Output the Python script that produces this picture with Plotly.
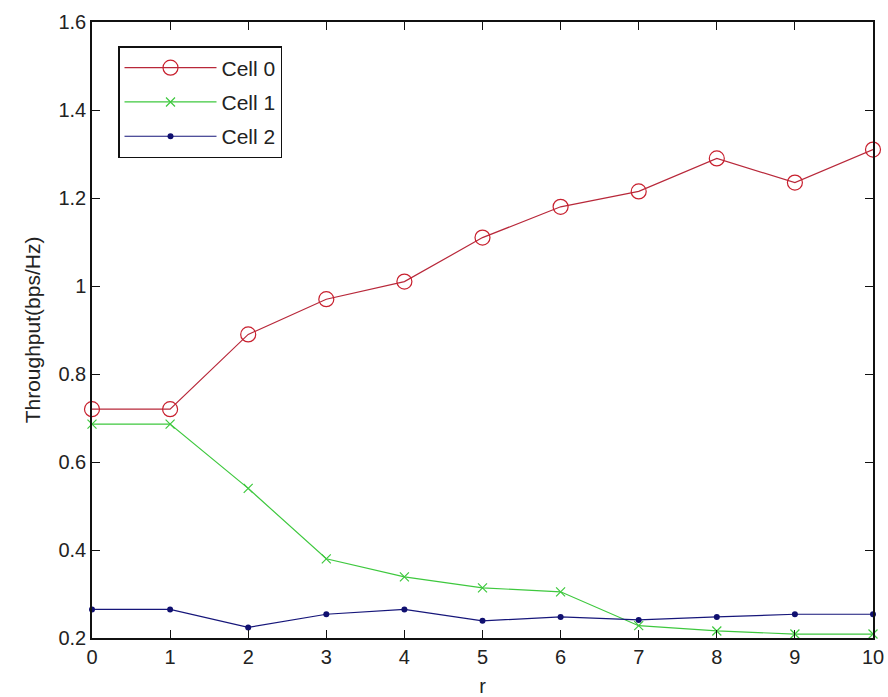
import plotly.graph_objects as go

r_values = [0, 1, 2, 3, 4, 5, 6, 7, 8, 9, 10]
cell0 = [0.72, 0.72, 0.89, 0.97, 1.01, 1.11, 1.18, 1.215, 1.29, 1.235, 1.31]
cell1 = [0.686, 0.686, 0.54, 0.38, 0.339, 0.314, 0.305, 0.228, 0.216, 0.209, 0.209]
cell2 = [0.265, 0.265, 0.224, 0.254, 0.265, 0.239, 0.248, 0.241, 0.248, 0.254, 0.254]
series_names = ["Cell 0", "Cell 1", "Cell 2"]
y_ticks = [0.2, 0.4, 0.6, 0.8, 1.0, 1.2, 1.4, 1.6]
y_tick_labels = ["0.2", "0.4", "0.6", "0.8", "1", "1.2", "1.4", "1.6"]
x_ticks = [0, 1, 2, 3, 4, 5, 6, 7, 8, 9, 10]

FONT = "Liberation Sans, Arial, sans-serif"

fig = go.Figure()
fig.add_trace(go.Scatter(
    x=r_values, y=cell0, name=series_names[0], mode="lines+markers",
    legendgroup="g0",
    line=dict(color="#b8283a", width=1.2),
    marker=dict(symbol="circle-open", size=15, color="#c8202e", line=dict(width=1.2)),
    cliponaxis=False,
))
fig.add_trace(go.Scatter(
    x=r_values, y=cell1, name=series_names[1], mode="lines+markers",
    legendgroup="g1",
    line=dict(color="#3ec83e", width=1.2),
    marker=dict(symbol="x-thin-open", size=9, color="#3ec83e", line=dict(width=1.2)),
    cliponaxis=False,
))
fig.add_trace(go.Scatter(
    x=r_values, y=cell2, name=series_names[2], mode="lines+markers",
    legendgroup="g2",
    line=dict(color="#16167a", width=1.2),
    marker=dict(symbol="circle", size=6, color="#101070"),
    cliponaxis=False,
))

fig.update_layout(
    width=888, height=697,
    margin=dict(l=92, r=15, t=22, b=59),
    paper_bgcolor="white", plot_bgcolor="white",
    font=dict(family=FONT, size=20, color="#222222"),
    showlegend=True,
    legend=dict(
        x=0.0333, y=0.961, xanchor="left", yanchor="top",
        bgcolor="white", bordercolor="#111111", borderwidth=1.5,
        font=dict(family=FONT, size=21, color="#222222"),
        itemwidth=92, tracegroupgap=4,
    ),
)
fig.update_xaxes(
    range=[0, 10], tickvals=x_ticks, ticks="inside", ticklen=8, tickwidth=1.2,
    tickcolor="#111111", showline=True, linecolor="#111111", linewidth=1.5,
    mirror="ticks", showgrid=False, zeroline=False, automargin=False,
    tickfont=dict(size=20),
    title=dict(text="r", font=dict(size=20), standoff=14),
)
fig.update_yaxes(
    range=[0.2, 1.6], tickvals=y_ticks, ticktext=y_tick_labels, ticks="inside",
    ticklen=8, tickwidth=1.2, tickcolor="#111111", showline=True,
    linecolor="#111111", linewidth=1.5, mirror="ticks", showgrid=False,
    zeroline=False, automargin=False, tickfont=dict(size=20),
    title=dict(text="Throughput(bps/Hz)", font=dict(size=21), standoff=12),
)

fig.write_html("out.html", config={"displayModeBar": False},
               post_script="document.body.style.margin='0';")
